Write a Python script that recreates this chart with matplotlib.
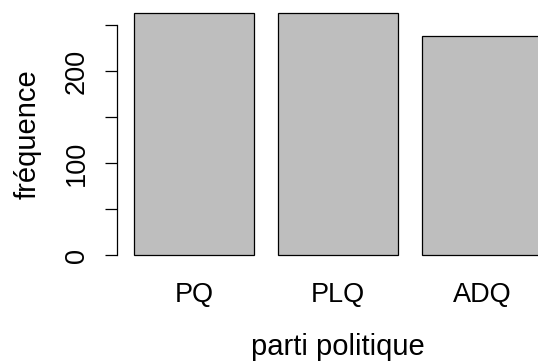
import matplotlib
matplotlib.use('Agg')

import matplotlib.pyplot as plt

partis = ['PQ', 'PLQ', 'ADQ']
frequences = [263, 263, 238]

plt.rcParams['font.family'] = ['Liberation Sans', 'DejaVu Sans']

fig = plt.figure(figsize=(5.38, 3.64), dpi=100)
# plot region placed like R's barplot; its right part runs past the image edge
ax = fig.add_axes([117 / 538, 1 - 265 / 364, (558 - 117) / 538, 262 / 364])

lefts = [0.2 + 1.2 * i for i in range(len(partis))]
centres = [l + 0.5 for l in lefts]
ax.bar(centres, frequences, width=1.0, color='#bebebe', edgecolor='black', linewidth=0.9)

ax.set_xlim(0.2 - 17 / 120, 0.2 + (558 - 134) / 120)
ax.set_ylim(-10.5, 273.9)

for s in ['top', 'right', 'bottom']:
    ax.spines[s].set_visible(False)
ax.spines['left'].set_bounds(0, 250)
ax.spines['left'].set_linewidth(0.9)

ax.set_xticks(centres)
ax.set_xticklabels(partis)
ax.tick_params(axis='x', length=0, pad=12, labelsize=19.5)

yt = [0, 50, 100, 150, 200, 250]
ax.set_yticks(yt)
ax.set_yticklabels([str(v) if v % 100 == 0 else '' for v in yt], rotation=90, va='center')
ax.tick_params(axis='y', length=8.6, width=0.9, pad=11, labelsize=19.5)

ax.set_xlabel('parti politique', fontsize=21, labelpad=18)
ax.set_ylabel('fréquence', fontsize=21, labelpad=16)

plt.savefig('out.png', dpi=100)
